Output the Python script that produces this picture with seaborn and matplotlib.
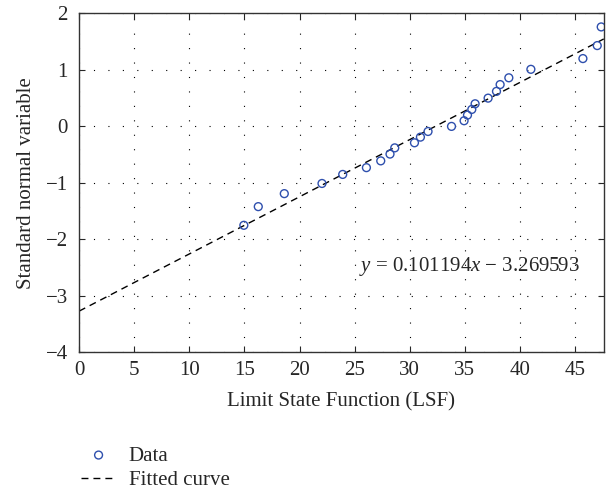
import matplotlib
matplotlib.use("Agg")
import matplotlib.pyplot as plt
import seaborn as sns
import pandas as pd

# LSF values and standard normal variable
lsf = [14.95, 16.26, 18.62, 22.04, 23.92, 26.07, 27.37, 28.21, 28.64,
       30.43, 30.97, 31.66, 33.79, 34.93, 35.24, 35.63, 35.93, 37.11,
       37.87, 38.20, 38.99, 40.99, 45.71, 47.01, 47.37]
snv = [-1.75, -1.42, -1.19, -1.01, -0.85, -0.73, -0.61, -0.49, -0.38,
       -0.29, -0.19, -0.09, 0.00, 0.10, 0.20, 0.30, 0.40, 0.50,
       0.62, 0.74, 0.86, 1.01, 1.20, 1.43, 1.76]

# fitted line ends (y = 0.101194x - 3.269593)
fit_x = [0.0, 47.6]
fit_y = [-3.2696, 1.5472]
fit_label = r"$y$ = 0.101194$x$ − 3.269593"

df = pd.DataFrame({"LSF": lsf, "SNV": snv})
df_fit = pd.DataFrame({"LSF": fit_x, "SNV": fit_y})

sns.set_style("ticks")
plt.rcParams["font.family"] = ["Liberation Serif", "DejaVu Serif"]
plt.rcParams["mathtext.fontset"] = "custom"
plt.rcParams["mathtext.rm"] = "Liberation Serif"
plt.rcParams["mathtext.it"] = "Liberation Serif:italic"

fs = 15

fig = plt.figure(figsize=(6.08, 4.95), dpi=100)
ax = fig.add_axes([0.13, 0.288, 0.863, 0.685])

sns.scatterplot(data=df, x="LSF", y="SNV", ax=ax, marker="o",
                facecolor="none", edgecolor="#2e4fad", linewidth=1.0,
                s=32, label="Data", zorder=3)
sns.lineplot(data=df_fit, x="LSF", y="SNV", ax=ax, color="black",
             linewidth=1.0, label="Fitted curve", zorder=2)
ax.lines[-1].set_dashes((5, 3.6))

ax.set_xlim(0, 47.6)
ax.set_ylim(-4, 2)
ax.set_xticks(range(0, 50, 5))
ax.set_yticks(range(-4, 3))
ax.set_yticklabels([str(v).replace("-", "−") for v in range(-4, 3)])
ax.grid(True, color="black", linestyle=(0, (1, 12)), linewidth=0.8)
ax.tick_params(direction="in", top=True, right=True, length=4,
               labelsize=fs, width=0.8)
ax.tick_params(axis="y", pad=8)
ax.tick_params(axis="x", pad=6)
for sp in ax.spines.values():
    sp.set_linewidth(1.0)
    sp.set_color("#333333")

ax.set_xlabel("Limit State Function (LSF)", fontsize=fs, labelpad=9)
ax.set_ylabel("Standard normal variable", fontsize=fs, labelpad=7)
ax.text(0.533, 0.2525, fit_label, transform=ax.transAxes, fontsize=fs,
        ha="left", va="center")

h, l = ax.get_legend_handles_labels()
ax.legend_.remove()
leg = fig.legend(h, l, loc="upper left", bbox_to_anchor=(0.103, 0.137),
                 frameon=False, fontsize=fs, handlelength=1.65,
                 handletextpad=0.63, labelspacing=0.25)
leg.get_lines()[-1].set_dashes((5, 3.6))

fig.savefig("out.png", dpi=100)
